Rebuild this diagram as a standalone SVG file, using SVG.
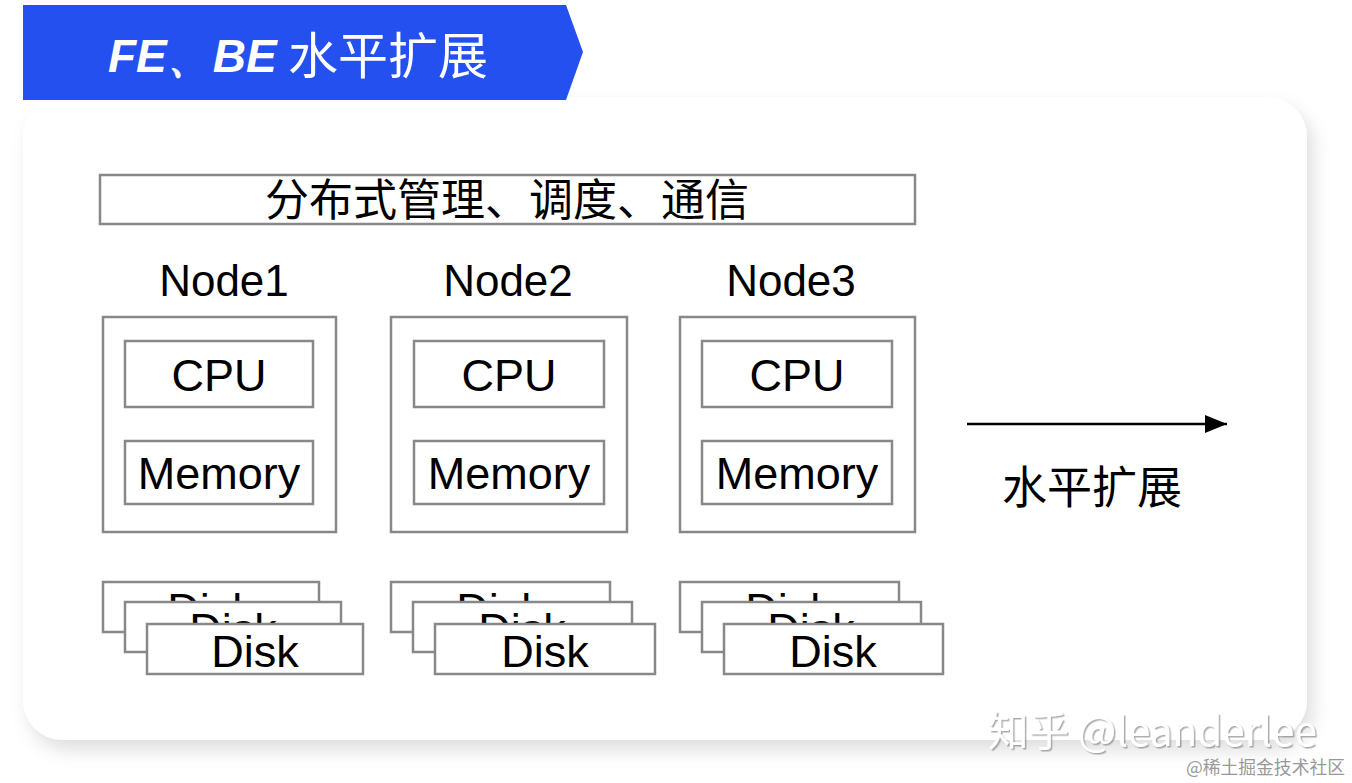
<svg xmlns="http://www.w3.org/2000/svg" width="1352" height="783" viewBox="0 0 1352 783">
<style>
.box{fill:#fff;stroke:#888;stroke-width:2.5}
.t{font-family:"Liberation Sans",Arial,"Noto Sans CJK SC",sans-serif;fill:#000;text-anchor:middle}
.cn{font-family:"Noto Sans CJK SC","Liberation Sans",sans-serif;fill:#000;text-anchor:middle}
.lbl{font-size:45px}
</style>
<defs>
<filter id="sh" x="-5%" y="-5%" width="112%" height="115%">
<feDropShadow dx="6" dy="10" stdDeviation="9" flood-color="#000" flood-opacity="0.13"/>
</filter>
<filter id="wm" x="-5%" y="-20%" width="110%" height="140%">
<feDropShadow dx="1.5" dy="1.5" stdDeviation="0.6" flood-color="#777" flood-opacity="0.6"/>
</filter>
<marker id="arr" viewBox="0 0 22 18" refX="22" refY="9" markerWidth="22" markerHeight="18" markerUnits="userSpaceOnUse" orient="auto">
<path d="M0,0 L22,9 L0,18 z" fill="#000"/>
</marker>
</defs>
<rect width="1352" height="783" fill="#fff"/>
<rect x="23" y="97" width="1284" height="643" rx="40" fill="#fff" filter="url(#sh)"/>
<g id="banner">
<path d="M23,5 L566,5 L583,52 L566,100 L23,100 Z" fill="#2550f0"/>
<text x="108" y="72" font-family="Liberation Sans,Arial,sans-serif" font-weight="bold" font-style="italic" font-size="46" fill="#fff">FE、BE</text>
<text x="288" y="74" font-family="Noto Sans CJK SC,sans-serif" font-size="50" fill="#fff">水平扩展</text>
</g>
<g id="mgmt">
<rect class="box" x="100" y="175" width="815" height="49"/>
<text class="cn" x="507" y="216" font-size="44">分布式管理、调度、通信</text>
</g>
<g id="node1">
<text class="t" x="224" y="296" font-size="44">Node1</text>
<rect class="box" x="103" y="317" width="233" height="215"/>
<rect class="box" x="125" y="341" width="188" height="66"/>
<text class="t lbl" x="219" y="391">CPU</text>
<rect class="box" x="125" y="441" width="188" height="63"/>
<text class="t lbl" x="219" y="489">Memory</text>
</g>
<g id="node2">
<text class="t" x="508" y="296" font-size="44">Node2</text>
<rect class="box" x="391" y="317" width="236" height="215"/>
<rect class="box" x="414" y="341" width="190" height="66"/>
<text class="t lbl" x="509" y="391">CPU</text>
<rect class="box" x="414" y="441" width="190" height="63"/>
<text class="t lbl" x="509" y="489">Memory</text>
</g>
<g id="node3">
<text class="t" x="791" y="296" font-size="44">Node3</text>
<rect class="box" x="680" y="317" width="235" height="215"/>
<rect class="box" x="702" y="341" width="190" height="66"/>
<text class="t lbl" x="797" y="391">CPU</text>
<rect class="box" x="702" y="441" width="190" height="63"/>
<text class="t lbl" x="797" y="489">Memory</text>
</g>
<g id="disks1">
<rect class="box" x="103" y="582" width="216" height="50"/>
<text class="t lbl" x="211" y="625">Disk</text>
<rect class="box" x="125" y="602" width="216" height="50"/>
<text class="t lbl" x="233" y="645">Disk</text>
<rect class="box" x="147" y="624" width="216" height="50"/>
<text class="t lbl" x="255" y="667">Disk</text>
</g>
<g id="disks2">
<rect class="box" x="391" y="582" width="219" height="50"/>
<text class="t lbl" x="500" y="625">Disk</text>
<rect class="box" x="413" y="602" width="219" height="50"/>
<text class="t lbl" x="522" y="645">Disk</text>
<rect class="box" x="435" y="624" width="220" height="50"/>
<text class="t lbl" x="545" y="667">Disk</text>
</g>
<g id="disks3">
<rect class="box" x="680" y="582" width="219" height="50"/>
<text class="t lbl" x="789" y="625">Disk</text>
<rect class="box" x="702" y="602" width="219" height="50"/>
<text class="t lbl" x="811" y="645">Disk</text>
<rect class="box" x="724" y="624" width="219" height="50"/>
<text class="t lbl" x="833" y="667">Disk</text>
</g>
<g id="connectors">
<line x1="967" y1="424" x2="1227" y2="424" stroke="#000" stroke-width="2.5" marker-end="url(#arr)"/>
</g>
<g id="scale-label">
<text class="cn" x="1092" y="504" font-size="45">水平扩展</text>
</g>
<g id="watermark">
<text x="988" y="746" font-family="Noto Sans CJK SC,Liberation Sans,sans-serif" font-size="40.5" fill="#fff" filter="url(#wm)">知乎 @leanderlee</text>
<text x="1345" y="774" text-anchor="end" font-family="Noto Sans CJK SC,sans-serif" font-size="17.8" fill="#999">@稀土掘金技术社区</text>
</g>
</svg>
